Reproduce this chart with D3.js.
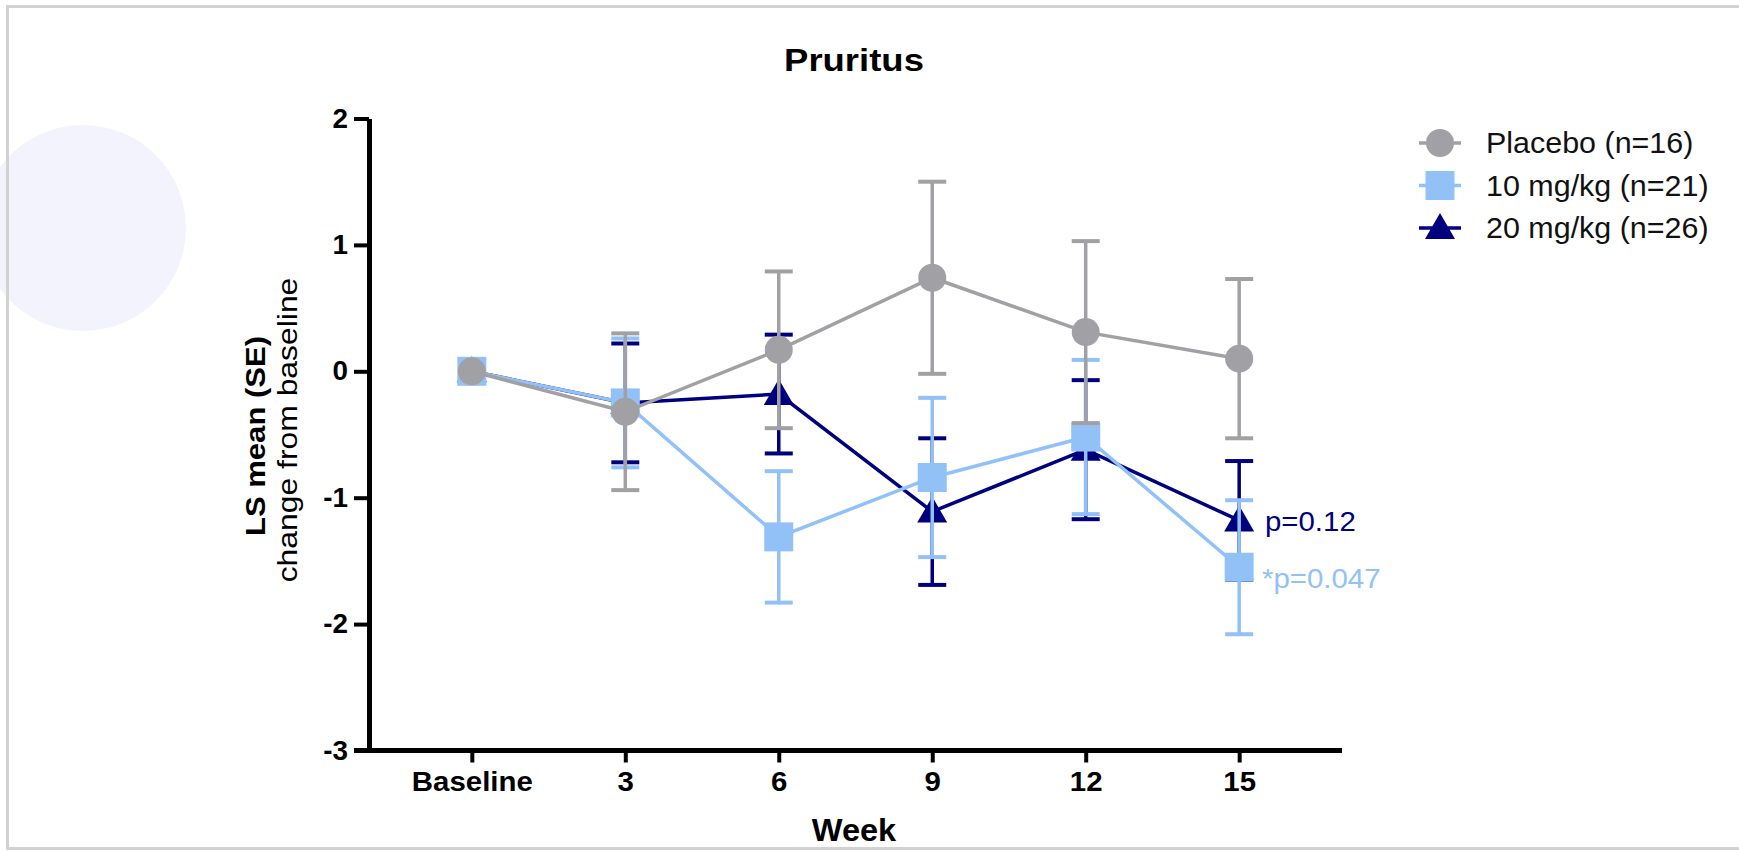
<!DOCTYPE html>
<html>
<head>
<meta charset="utf-8">
<script src="https://cdn.jsdelivr.net/npm/d3@7/dist/d3.min.js"></script>
<style>
  html, body { margin: 0; padding: 0; background: #ffffff; }
  svg { display: block; }
  text { font-family: "Liberation Sans", Arial, Helvetica, sans-serif; }
</style>
</head>
<body>
<svg id="chart" width="1739" height="852"></svg>
<script>
// ---------------- data ----------------
const weeks = ["Baseline", "3", "6", "9", "12", "15"];
const yTicks = [-3, -2, -1, 0, 1, 2];

const placeboMean = [0, -0.32, 0.17, 0.74, 0.31, 0.10];
const placeboSE   = [0, 0.62, 0.62, 0.76, 0.72, 0.63];

const mg10Mean = [0, -0.25, -1.31, -0.84, -0.52, -1.55];
const mg10SE   = [0, 0.51, 0.52, 0.63, 0.61, 0.53];

const mg20Mean = [0, -0.25, -0.18, -1.11, -0.62, -1.18];
const mg20SE   = [0, 0.47, 0.47, 0.58, 0.55, 0.47];

const seriesNames = ["Placebo (n=16)", "10 mg/kg (n=21)", "20 mg/kg (n=26)"];
const pLabels = ["p=0.12", "*p=0.047"];

// ---------------- setup ----------------
const svg = d3.select("#chart");
const W = 1739, H = 852;
const colGrey = "#a1a1a5", colLight = "#92c1f8", colNavy = "#00007f";

function stretch(sel, k) {
  sel.each(function () {
    const len = this.getComputedTextLength();
    d3.select(this).attr("textLength", len * k).attr("lengthAdjust", "spacingAndGlyphs");
  });
}

// frame and decoration
svg.append("rect").attr("x", 0).attr("y", 0).attr("width", W).attr("height", H).attr("fill", "#fff");
svg.append("circle").attr("cx", 83).attr("cy", 228).attr("r", 103).attr("fill", "#f3f3fd");
svg.append("rect").attr("x", 7.5).attr("y", 6.5).attr("width", W + 10).attr("height", 842)
  .attr("fill", "none").attr("stroke", "#d2d2d2").attr("stroke-width", 3);

const x = d3.scalePoint().domain(weeks).range([369, 1342]).padding(0.67);
const y = d3.scaleLinear().domain([-3, 2]).range([750.5, 118.5]);

// ---------------- axes ----------------
const yAxis = svg.append("g").attr("transform", "translate(369,0)")
  .call(d3.axisLeft(y).tickValues(yTicks).tickSize(15).tickSizeOuter(0).tickPadding(6)
    .tickFormat(d => String(d)));
yAxis.select(".domain").attr("stroke", "#000").attr("stroke-width", 5);
yAxis.selectAll(".tick line").attr("stroke", "#000").attr("stroke-width", 4);
yAxis.selectAll(".tick text").attr("font-size", 27).attr("font-weight", "bold").attr("fill", "#000")
  .style("font-family", "'Liberation Sans', Arial, sans-serif");

const xAxis = svg.append("g").attr("transform", "translate(0,750.5)")
  .call(d3.axisBottom(x).tickSize(12).tickSizeOuter(0).tickPadding(6));
xAxis.select(".domain").attr("stroke", "#000").attr("stroke-width", 5)
  .attr("d", "M354,0H1342");
xAxis.selectAll(".tick line").attr("stroke", "#000").attr("stroke-width", 4);
xAxis.selectAll(".tick text").attr("font-size", 28).attr("font-weight", "bold").attr("fill", "#000")
  .attr("dy", "0.82em")
  .style("font-family", "'Liberation Sans', Arial, sans-serif");

// titles
svg.append("text").attr("x", 854).attr("y", 71).attr("text-anchor", "middle")
  .attr("font-size", 32).attr("font-weight", "bold").text("Pruritus").call(stretch, 1.14);
svg.append("text").attr("x", 854).attr("y", 841).attr("text-anchor", "middle")
  .attr("font-size", 31).attr("font-weight", "bold").text("Week").call(stretch, 1.05);

svg.append("text").attr("transform", "translate(265,436) rotate(-90)").attr("text-anchor", "middle")
  .attr("font-size", 27).attr("font-weight", "bold").text("LS mean (SE)").call(stretch, 1.15);
svg.append("text").attr("transform", "translate(297,430) rotate(-90)").attr("text-anchor", "middle")
  .attr("font-size", 27).text("change from baseline").call(stretch, 1.18);

yAxis.selectAll(".tick text").call(stretch, 1.03);
xAxis.selectAll(".tick text").call(stretch, 1.05);

// ---------------- series ----------------
const series = [
  { name: seriesNames[2], mean: mg20Mean, se: mg20SE, color: colNavy, shape: "triangle" },
  { name: seriesNames[1], mean: mg10Mean, se: mg10SE, color: colLight, shape: "square" },
  { name: seriesNames[0], mean: placeboMean, se: placeboSE, color: colGrey, shape: "circle" }
];

function drawMarker(g, shape, cx, cy, color) {
  if (shape === "circle") {
    g.append("circle").attr("cx", cx).attr("cy", cy).attr("r", 14).attr("fill", color);
  } else if (shape === "square") {
    g.append("rect").attr("x", cx - 14.5).attr("y", cy - 14.5).attr("width", 29).attr("height", 29).attr("fill", color);
  } else {
    g.append("path").attr("d", `M${cx},${cy - 15}L${cx + 15},${cy + 11}L${cx - 15},${cy + 11}Z`).attr("fill", color);
  }
}

const line = d3.line().x((d, i) => x(weeks[i])).y(d => y(d));

series.forEach(s => {
  const g = svg.append("g");
  s.mean.forEach((m, i) => {
    if (s.se[i] <= 0) return;
    const cx = x(weeks[i]);
    const top = y(m + s.se[i]), bot = y(m - s.se[i]);
    g.append("line").attr("x1", cx).attr("x2", cx).attr("y1", top).attr("y2", bot)
      .attr("stroke", s.color).attr("stroke-width", 3.5);
    [top, bot].forEach(yy => g.append("line").attr("x1", cx - 14).attr("x2", cx + 14).attr("y1", yy).attr("y2", yy)
      .attr("stroke", s.color).attr("stroke-width", 4));
  });
  g.append("path").datum(s.mean).attr("d", line).attr("fill", "none")
    .attr("stroke", s.color).attr("stroke-width", 3.5);
  s.mean.forEach((m, i) => drawMarker(g, s.shape, x(weeks[i]), y(m), s.color));
});

// p-value annotations
svg.append("text").attr("x", 1265).attr("y", 531).attr("font-size", 28).attr("fill", colNavy)
  .text(pLabels[0]).call(stretch, 1.05);
svg.append("text").attr("x", 1262).attr("y", 588).attr("font-size", 28).attr("fill", colLight)
  .text(pLabels[1]).call(stretch, 1.05);

// ---------------- legend ----------------
const legendRows = [
  { name: seriesNames[0], color: colGrey, shape: "circle" },
  { name: seriesNames[1], color: colLight, shape: "square" },
  { name: seriesNames[2], color: colNavy, shape: "triangle" }
];
legendRows.forEach((r, i) => {
  const cy = 143 + i * 42.5;
  const g = svg.append("g");
  g.append("line").attr("x1", 1419).attr("x2", 1461).attr("y1", cy).attr("y2", cy)
    .attr("stroke", r.color).attr("stroke-width", 3.5);
  drawMarker(g, r.shape, 1440, cy, r.color);
  g.append("text").attr("x", 1486).attr("y", cy).attr("dy", "0.36em").attr("font-size", 29)
    .attr("fill", "#111").text(r.name).call(stretch, 1.05);
});
</script>
</body>
</html>
